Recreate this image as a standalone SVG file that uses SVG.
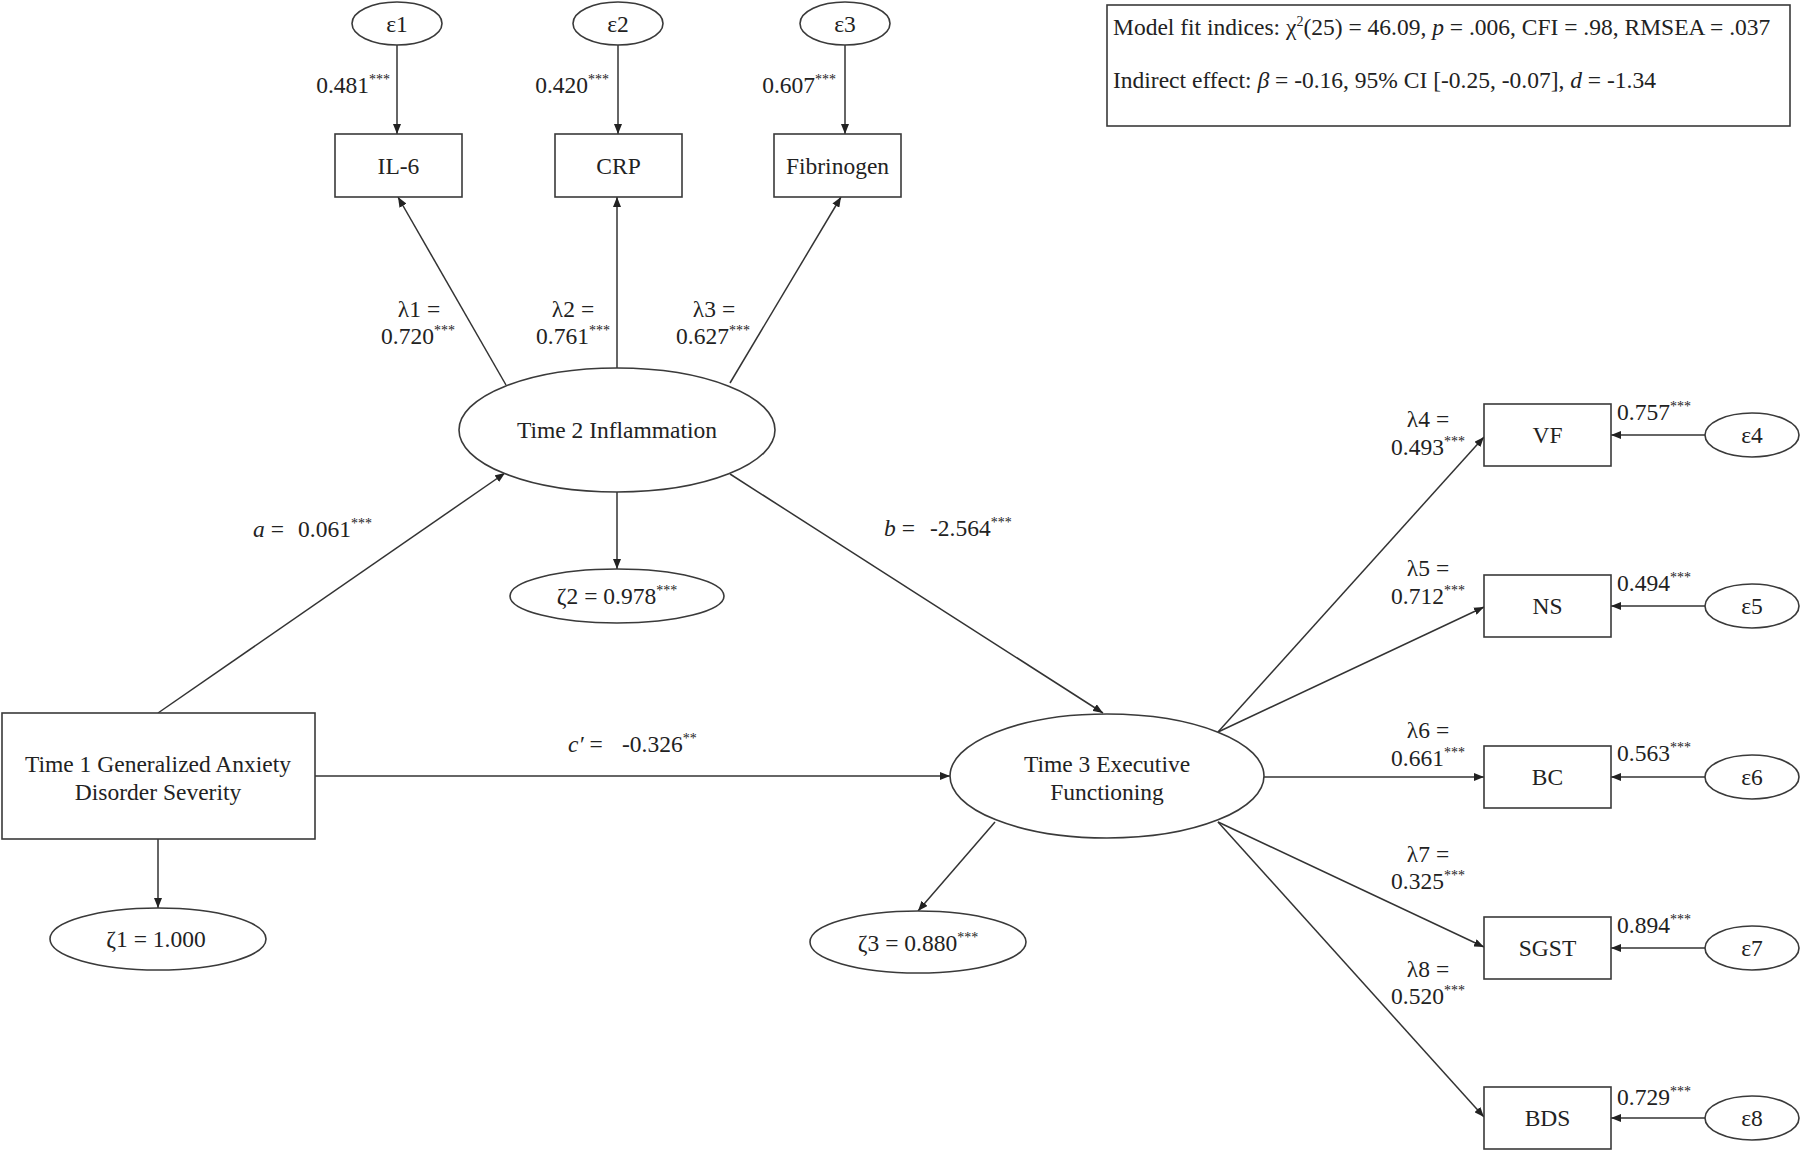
<svg xmlns="http://www.w3.org/2000/svg" width="1800" height="1151" viewBox="0 0 1800 1151">
<style>
text{font-family:"Liberation Serif","Times New Roman",serif;font-size:23.5px;fill:#222}
.m{text-anchor:middle}
.e{text-anchor:end}
.s{font-size:14px}
.i{font-style:italic}
.box{fill:#fff;stroke:#3a3a3a;stroke-width:1.6}
.ell{fill:#fff;stroke:#3a3a3a;stroke-width:1.6}
.c line{stroke:#333;stroke-width:1.5;marker-end:url(#ah)}
</style>
<defs>
<marker id="ah" viewBox="0 0 10 8" refX="10" refY="4" markerWidth="10" markerHeight="8" markerUnits="userSpaceOnUse" orient="auto">
<path d="M0,0 L10,4 L0,8 z" fill="#222"/>
</marker>
</defs>
<rect width="1800" height="1151" fill="#fff"/>

<g class="c" id="connectors">
<line x1="397" y1="45" x2="397" y2="134"/>
<line x1="618" y1="45" x2="618" y2="134"/>
<line x1="845" y1="45" x2="845" y2="134"/>
<line x1="506" y1="385" x2="398" y2="197"/>
<line x1="617" y1="368" x2="617" y2="197"/>
<line x1="730" y1="383" x2="841" y2="197"/>
<line x1="617" y1="492" x2="617" y2="569"/>
<line x1="158" y1="713" x2="505" y2="473"/>
<line x1="730" y1="474" x2="1103" y2="713"/>
<line x1="315" y1="776" x2="950" y2="776"/>
<line x1="158" y1="839" x2="158" y2="908"/>
<line x1="995" y1="822" x2="918" y2="911"/>
<line x1="1218" y1="732" x2="1484" y2="437"/>
<line x1="1218" y1="732" x2="1484" y2="607"/>
<line x1="1263" y1="777" x2="1484" y2="777"/>
<line x1="1218" y1="822" x2="1484" y2="947"/>
<line x1="1218" y1="822" x2="1484" y2="1117"/>
<line x1="1705" y1="435" x2="1611" y2="435"/>
<line x1="1705" y1="606" x2="1611" y2="606"/>
<line x1="1705" y1="777" x2="1611" y2="777"/>
<line x1="1705" y1="948" x2="1611" y2="948"/>
<line x1="1705" y1="1118" x2="1611" y2="1118"/>
</g>

<g id="labels">
<text class="e" x="390" y="93">0.481<tspan class="s" dy="-9">***</tspan></text>
<text class="e" x="609" y="93">0.420<tspan class="s" dy="-9">***</tspan></text>
<text class="e" x="836" y="93">0.607<tspan class="s" dy="-9">***</tspan></text>
<text class="m" x="419" y="317">λ1 =</text>
<text class="m" x="418" y="344">0.720<tspan class="s" dy="-9">***</tspan></text>
<text class="m" x="573" y="317">λ2 =</text>
<text class="m" x="573" y="344">0.761<tspan class="s" dy="-9">***</tspan></text>
<text class="m" x="714" y="317">λ3 =</text>
<text class="m" x="713" y="344">0.627<tspan class="s" dy="-9">***</tspan></text>
<text x="253" y="537"><tspan class="i">a</tspan> = <tspan x="298">0.061</tspan><tspan class="s" dy="-9">***</tspan></text>
<text x="884" y="536"><tspan class="i">b</tspan> = <tspan x="930">-2.564</tspan><tspan class="s" dy="-9">***</tspan></text>
<text x="568" y="752"><tspan class="i">c′</tspan> = <tspan x="622">-0.326</tspan><tspan class="s" dy="-9">**</tspan></text>
<text class="m" x="1428" y="427">λ4 =</text>
<text class="m" x="1428" y="455">0.493<tspan class="s" dy="-9">***</tspan></text>
<text class="m" x="1428" y="576">λ5 =</text>
<text class="m" x="1428" y="604">0.712<tspan class="s" dy="-9">***</tspan></text>
<text class="m" x="1428" y="738">λ6 =</text>
<text class="m" x="1428" y="766">0.661<tspan class="s" dy="-9">***</tspan></text>
<text class="m" x="1428" y="862">λ7 =</text>
<text class="m" x="1428" y="889">0.325<tspan class="s" dy="-9">***</tspan></text>
<text class="m" x="1428" y="977">λ8 =</text>
<text class="m" x="1428" y="1004">0.520<tspan class="s" dy="-9">***</tspan></text>
<text x="1617" y="420">0.757<tspan class="s" dy="-9">***</tspan></text>
<text x="1617" y="591">0.494<tspan class="s" dy="-9">***</tspan></text>
<text x="1617" y="761">0.563<tspan class="s" dy="-9">***</tspan></text>
<text x="1617" y="933">0.894<tspan class="s" dy="-9">***</tspan></text>
<text x="1617" y="1105">0.729<tspan class="s" dy="-9">***</tspan></text>
</g>

<g id="e1"><ellipse class="ell" cx="397" cy="23.5" rx="45" ry="21.5"/><text class="m" x="397" y="32">ε1</text></g>
<g id="e2"><ellipse class="ell" cx="618" cy="23.5" rx="45" ry="21.5"/><text class="m" x="618" y="32">ε2</text></g>
<g id="e3"><ellipse class="ell" cx="845" cy="23.5" rx="45" ry="21.5"/><text class="m" x="845" y="32">ε3</text></g>

<g id="il6"><rect class="box" x="335" y="134" width="127" height="63"/><text class="m" x="398.5" y="174">IL-6</text></g>
<g id="crp"><rect class="box" x="555" y="134" width="127" height="63"/><text class="m" x="618.5" y="174">CRP</text></g>
<g id="fib"><rect class="box" x="774" y="134" width="127" height="63"/><text class="m" x="837.5" y="174">Fibrinogen</text></g>

<g id="fit"><rect class="box" x="1107" y="5" width="683" height="121"/>
<text x="1113" y="35">Model fit indices: χ<tspan class="s" dy="-9">2</tspan><tspan dy="9">(25) = 46.09, </tspan><tspan class="i">p</tspan> = .006, CFI = .98, RMSEA = .037</text>
<text x="1113" y="88">Indirect effect: <tspan class="i">β</tspan> = -0.16, 95% CI [-0.25, -0.07], <tspan class="i">d</tspan> = -1.34</text>
</g>

<g id="t2"><ellipse class="ell" cx="617" cy="430" rx="158" ry="62"/><text class="m" x="617" y="438">Time 2 Inflammation</text></g>
<g id="z2"><ellipse class="ell" cx="617" cy="596" rx="107" ry="27"/><text class="m" x="617" y="604">ζ2 = 0.978<tspan class="s" dy="-9">***</tspan></text></g>

<g id="t1"><rect class="box" x="2" y="713" width="313" height="126"/>
<text class="m" x="158" y="772">Time 1 Generalized Anxiety</text>
<text class="m" x="158" y="800">Disorder Severity</text></g>
<g id="z1"><ellipse class="ell" cx="158" cy="939" rx="108" ry="31"/><text class="m" x="156" y="947">ζ1 = 1.000</text></g>

<g id="t3"><ellipse class="ell" cx="1107" cy="776" rx="157" ry="62"/>
<text class="m" x="1107" y="772">Time 3 Executive</text>
<text class="m" x="1107" y="800">Functioning</text></g>
<g id="z3"><ellipse class="ell" cx="918" cy="942" rx="108" ry="31"/><text class="m" x="918" y="951">ζ3 = 0.880<tspan class="s" dy="-9">***</tspan></text></g>

<g id="vf"><rect class="box" x="1484" y="404" width="127" height="62"/><text class="m" x="1547.5" y="443">VF</text></g>
<g id="ns"><rect class="box" x="1484" y="575" width="127" height="62"/><text class="m" x="1547.5" y="614">NS</text></g>
<g id="bc"><rect class="box" x="1484" y="746" width="127" height="62"/><text class="m" x="1547.5" y="785">BC</text></g>
<g id="sgst"><rect class="box" x="1484" y="917" width="127" height="62"/><text class="m" x="1547.5" y="956">SGST</text></g>
<g id="bds"><rect class="box" x="1484" y="1087" width="127" height="62"/><text class="m" x="1547.5" y="1126">BDS</text></g>

<g id="e4"><ellipse class="ell" cx="1752" cy="435" rx="47" ry="22"/><text class="m" x="1752" y="443">ε4</text></g>
<g id="e5"><ellipse class="ell" cx="1752" cy="606" rx="47" ry="22"/><text class="m" x="1752" y="614">ε5</text></g>
<g id="e6"><ellipse class="ell" cx="1752" cy="777" rx="47" ry="22"/><text class="m" x="1752" y="785">ε6</text></g>
<g id="e7"><ellipse class="ell" cx="1752" cy="948" rx="47" ry="22"/><text class="m" x="1752" y="956">ε7</text></g>
<g id="e8"><ellipse class="ell" cx="1752" cy="1118" rx="47" ry="22"/><text class="m" x="1752" y="1126">ε8</text></g>
</svg>
